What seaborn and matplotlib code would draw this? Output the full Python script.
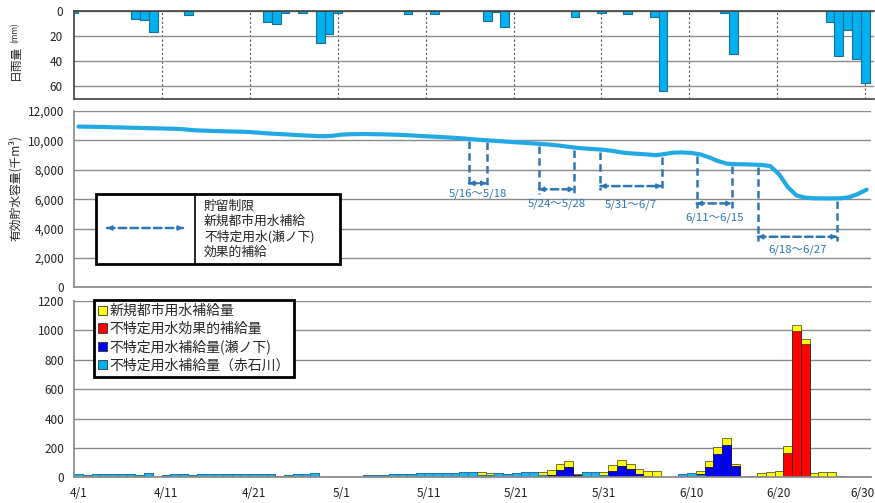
import numpy as np
import pandas as pd
import matplotlib
matplotlib.use("Agg")
import matplotlib.pyplot as plt
import matplotlib.transforms as mtransforms
import seaborn as sns
from matplotlib.patches import Rectangle, Patch
from matplotlib.ticker import FuncFormatter

sns.set_theme(style="white")
plt.rcParams["font.family"] = ["Noto Sans CJK JP", "DejaVu Sans"]

# ---- data: 4/1 .. 6/30 (91 days) ----
tick_labels = ["4/1", "4/11", "4/21", "5/1", "5/11", "5/21", "5/31", "6/10", "6/20", "6/30"]

# daily rainfall (mm)
rain = [1.5, 0, 0, 0, 0, 0, 0, 6.5, 7.5, 16.5,
        0, 0, 0, 3.5, 0, 0, 0, 0, 0, 0,
        0, 0, 8.5, 10, 1.3, 0, 1.3, 0, 25.5, 18,
        1.3, 0, 0, 0, 0, 0, 0, 0, 2, 0,
        0, 2, 0, 0, 0, 0, 0, 7.7, 1, 13,
        0, 0, 0, 0, 0, 0, 0, 5, 0, 0,
        1.3, 0, 0, 2.7, 0, 0, 5, 63.5, 0, 0,
        0, 0, 0, 0, 1.8, 34.5, 0, 0, 0, 0,
        0, 0, 0, 0, 0, 0, 8.5, 35.5, 15.5, 38, 57]

# effective storage (thousand m3)
storage = [10940, 10930, 10920, 10910, 10890, 10880, 10860, 10850, 10830, 10820,
           10800, 10790, 10760, 10700, 10670, 10650, 10630, 10610, 10600, 10580,
           10550, 10500, 10460, 10430, 10400, 10360, 10330, 10300, 10280, 10310,
           10390, 10420, 10430, 10430, 10420, 10410, 10390, 10370, 10340, 10300,
           10270, 10240, 10210, 10170, 10130, 10080, 10030, 9990, 9950, 9910,
           9870, 9830, 9790, 9750, 9700, 9640, 9560, 9490, 9440, 9400,
           9360, 9280, 9180, 9120, 9080, 9040, 8990, 9080, 9170, 9180,
           9140, 9050, 8850, 8600, 8420, 8380, 8370, 8350, 8330, 8250,
           7700, 6820, 6250, 6100, 6060, 6050, 6050, 6060, 6130, 6350, 6650]

# supply to unspecified use (Akaishi river)
supply_akaishi = [20, 14, 20, 25, 20, 25, 25, 14, 30, 0,
                  14, 20, 20, 14, 20, 20, 25, 25, 25, 25,
                  25, 25, 20, 7, 14, 20, 25, 27, 0, 0,
                  0, 0, 3, 16, 18, 18, 25, 25, 25, 30,
                  32, 32, 32, 32, 39, 36, 16, 16, 32, 20,
                  27, 39, 39, 16, 0, 0, 0, 0, 36, 39,
                  16, 0, 0, 0, 0, 0, 0, 0, 0, 23,
                  30, 16, 0, 0, 0, 0, 0, 10, 10, 0,
                  0, 0, 0, 0, 0, 0, 0, 0, 0, 0, 0]

# supply to unspecified use (Senoshita)
supply_senoshita = [0] * 54 + [15, 50, 70, 18, 0, 0, 0, 45, 80, 57, 25, 10, 0, 0, 0, 0,
                               0, 9, 73, 159, 220, 80] + [0] * 15

# effective supply to unspecified use
supply_effective = [0] * 81 + [168, 997, 906] + [0] * 7

# new municipal water supply
supply_newcity = [0] * 45 + [3, 18, 15, 0, 0, 0, 0, 0, 20, 35, 41, 39, 7, 0, 0,
                             23, 39, 36, 32, 30, 33, 41, 0, 0, 0,
                             0, 18, 41, 46, 45, 13, 0, 0, 20, 36,
                             43, 44, 43, 38, 30, 34, 34, 11, 0, 0, 0]

# restriction / supply periods: (label, start day, end day, arrow level, label level)
periods = [("5/16～5/18", 45, 47, 7080, 6400),
           ("5/24～5/28", 53, 57, 6670, 5680),
           ("5/31～6/7", 60, 67, 6890, 5600),
           ("6/11～6/15", 71, 75, 5710, 4760),
           ("6/18～6/27", 78, 87, 3440, 2580)]

days = np.arange(len(storage))
df = pd.DataFrame({
    "day": days,
    "rain": rain,
    "storage": storage,
    "akaishi": supply_akaishi,
    "senoshita": supply_senoshita,
    "effective": supply_effective,
    "newcity": supply_newcity,
})

# ---- figure ----
W, H = 875, 503
fig = plt.figure(figsize=(W / 100, H / 100), dpi=100)


def px_box(l, t, r, b):
    return [l / W, 1 - b / H, (r - l) / W, (b - t) / H]


RIGHT = 871
ax_rain = fig.add_axes(px_box(74, 11, RIGHT + 3, 99))
ax_stor = fig.add_axes(px_box(74, 111, RIGHT, 287.3))
ax_sup = fig.add_axes(px_box(74, 301, RIGHT, 477.3))

GRID = "#8a8a8a"
TICK_FS = 8.5
LINE_BLUE = "#22A9E4"
CYAN = "#00B0F0"
ANNOT = "#2E75B6"

# ---- rainfall panel ----
rain_df = df.assign(pos=df["day"] - 0.5, rain=df["rain"].replace(0, np.nan))
sns.barplot(data=rain_df, x="pos", y="rain", native_scale=True, width=1.0,
            color=CYAN, edgecolor="#1d6f8f", linewidth=0.8, saturation=1,
            errorbar=None, ax=ax_rain)
ax_rain.set_ylim(70, 0)
ax_rain.set_xlim(-0.5, 90.5)
ax_rain.set_yticks([0, 20, 40, 60])
ax_rain.set_xticks([])
ax_rain.set_xlabel("")
ax_rain.set_ylabel("")
ax_rain.grid(axis="y", color=GRID, lw=1)
ax_rain.set_axisbelow(True)
for xv in np.arange(9.5, 90, 10):
    ax_rain.axvline(xv, color="#555555", lw=0.8, ls=(0, (2, 2)), zorder=0.5)
for s in ("top", "bottom", "left"):
    ax_rain.spines[s].set_color("#404040")
    ax_rain.spines[s].set_linewidth(1.2)
ax_rain.spines["right"].set_visible(False)
ax_rain.tick_params(axis="y", labelsize=TICK_FS, length=0, pad=8, colors="#222222")

# ---- storage panel ----
sns.lineplot(data=df, x="day", y="storage", color=LINE_BLUE, lw=3,
             ax=ax_stor, zorder=3)
ax_stor.set_ylim(0, 12000)
ax_stor.set_xlim(-0.5, 90.5)
ax_stor.set_yticks(np.arange(0, 12001, 2000))
ax_stor.yaxis.set_major_formatter(FuncFormatter(lambda v, p: f"{v:,.0f}"))
ax_stor.set_xticks([])
ax_stor.set_xlabel("")
ax_stor.set_ylabel("")
ax_stor.grid(axis="y", color=GRID, lw=1)
ax_stor.set_axisbelow(True)
ax_stor.spines["top"].set_visible(False)
ax_stor.spines["right"].set_visible(False)
for s in ("left", "bottom"):
    ax_stor.spines[s].set_color(GRID)
ax_stor.tick_params(axis="y", labelsize=TICK_FS, length=4, width=1, color=GRID,
                    direction="out", pad=3, colors="#222222")
ax_stor.tick_params(axis="y", color=GRID)

DASH = (0, (3, 1.7))
OFFSET = -0.4
for label, d0, d1, y_arrow, y_text in periods:
    x0, x1 = d0 + OFFSET, d1 + OFFSET
    for xv in (x0, x1):
        y_top = np.interp(xv, days, storage) - 150
        ax_stor.plot([xv, xv], [y_top, y_arrow - 300], color=ANNOT, lw=1.8,
                     ls=DASH, zorder=2)
    a = 1.0 if (x1 - x0) < 3 else 0.6
    ax_stor.annotate("", xy=(x1, y_arrow), xytext=(x0, y_arrow),
                     arrowprops=dict(arrowstyle="-", color=ANNOT, lw=1.8,
                                     ls=DASH, shrinkA=0, shrinkB=0))
    for s_, e_ in ((x0 + a, x0), (x1 - a, x1)):
        ax_stor.annotate("", xy=(e_, y_arrow), xytext=(s_, y_arrow),
                         arrowprops=dict(arrowstyle="-|>", color=ANNOT, lw=1.2,
                                         mutation_scale=7, shrinkA=0, shrinkB=0))
    ax_stor.text((x0 + x1) / 2, y_text, label, ha="center", va="center",
                 fontsize=8.2, color=ANNOT)

# legend table for the storage panel
fig.add_artist(Rectangle((96 / W, 1 - 264 / H), (340 - 96) / W, (264 - 194) / H,
                         transform=fig.transFigure, facecolor="white",
                         edgecolor="black", lw=2, zorder=5))
fig.add_artist(plt.Line2D([195 / W, 195 / W], [1 - 194 / H, 1 - 264 / H],
                          transform=fig.transFigure, color="black", lw=1.2, zorder=6))
fig_ann = fig.add_axes([0, 0, 1, 1], facecolor="none")
fig_ann.set_xlim(0, W)
fig_ann.set_ylim(H, 0)
fig_ann.axis("off")
fig_ann.set_zorder(7)
fig_ann.annotate("", xy=(183, 228), xytext=(107, 228),
                 arrowprops=dict(arrowstyle="-", color=ANNOT, lw=1.8,
                                 ls=DASH, shrinkA=0, shrinkB=0))
for s_, e_ in ((113, 107), (177, 183)):
    fig_ann.annotate("", xy=(e_, 228), xytext=(s_, 228),
                     arrowprops=dict(arrowstyle="-|>", color=ANNOT, lw=1.2,
                                     mutation_scale=7, shrinkA=0, shrinkB=0))
legend_lines = ["貯留制限", "新規都市用水補給", "不特定用水(瀬ノ下)", "効果的補給"]
for k, txt in enumerate(legend_lines):
    fig_ann.text(204, 206.5 + 15.2 * k, txt, fontsize=9.2, va="center", ha="left",
                 color="#222222")

# ---- supply panel (stacked) ----
COL_NEW, COL_EFF, COL_SEN, COL_AKA = "#FFFF00", "#FF0000", "#0000FF", "#1DB4EE"
layers = [
    (df["akaishi"] + df["senoshita"] + df["effective"] + df["newcity"], COL_NEW, "#3a3a1a"),
    (df["akaishi"] + df["senoshita"] + df["effective"], COL_EFF, "#3a1a1a"),
    (df["akaishi"] + df["senoshita"], COL_SEN, "#1a1a3a"),
    (df["akaishi"], COL_AKA, "#2a7ca6"),
]
for cum, col, edge in layers:
    vals = cum.astype(float).where(cum > 0)
    sns.barplot(x=df["day"], y=vals, native_scale=True, width=1.0, color=col,
                saturation=1, edgecolor=edge, linewidth=0.5, errorbar=None,
                ax=ax_sup)
ax_sup.set_ylim(0, 1200)
ax_sup.set_xlim(-0.5, 90.5)
ax_sup.set_yticks(np.arange(0, 1201, 200))
ax_sup.set_xticks(np.arange(0, 91, 10))
ax_sup.set_xticklabels(tick_labels)
ax_sup.set_xlabel("")
ax_sup.set_ylabel("")
ax_sup.grid(axis="y", color=GRID, lw=1)
ax_sup.set_axisbelow(True)
ax_sup.spines["top"].set_visible(False)
ax_sup.spines["right"].set_visible(False)
for s in ("left", "bottom"):
    ax_sup.spines[s].set_color(GRID)
ax_sup.tick_params(axis="y", labelsize=TICK_FS, length=4, width=1, color=GRID,
                   direction="out", pad=3, colors="#222222")
ax_sup.tick_params(axis="x", labelsize=TICK_FS, length=0, pad=7, colors="#222222")
# keep the last date label inside the canvas
last = ax_sup.get_xticklabels()[-1]
last.set_transform(last.get_transform() +
                   mtransforms.ScaledTranslation(-4 / 100, 0, fig.dpi_scale_trans))

handles = [Patch(facecolor=COL_NEW, edgecolor="#333333", lw=0.6, label="新規都市用水補給量"),
           Patch(facecolor=COL_EFF, edgecolor="#333333", lw=0.6, label="不特定用水効果的補給量"),
           Patch(facecolor=COL_SEN, edgecolor="#333333", lw=0.6, label="不特定用水補給量(瀬ノ下)"),
           Patch(facecolor="#00B0F0", edgecolor="#333333", lw=0.6, label="不特定用水補給量（赤石川）")]
leg = ax_sup.legend(handles=handles, loc="upper left",
                    bbox_to_anchor=(94 / W, 1 - 300 / H), bbox_transform=fig.transFigure,
                    frameon=True, fancybox=False, framealpha=1, edgecolor="black",
                    fontsize=10, borderpad=0.3, handlelength=0.65, handleheight=0.65,
                    handletextpad=0.15, labelspacing=0.27, borderaxespad=0)
leg.get_frame().set_linewidth(2)

# ---- axis titles ----
fig.text(15 / W, 1 - 62 / H, "日雨量", rotation=90, ha="center", va="center", fontsize=8.5)
fig.text(15 / W, 1 - 33 / H, "(mm)", rotation=90, ha="center", va="center", fontsize=6)
fig.text(15 / W, 1 - 188 / H, "有効貯水容量(千m³)", rotation=90, ha="center",
         va="center", fontsize=8.5)

fig.savefig("out.png", dpi=100)
